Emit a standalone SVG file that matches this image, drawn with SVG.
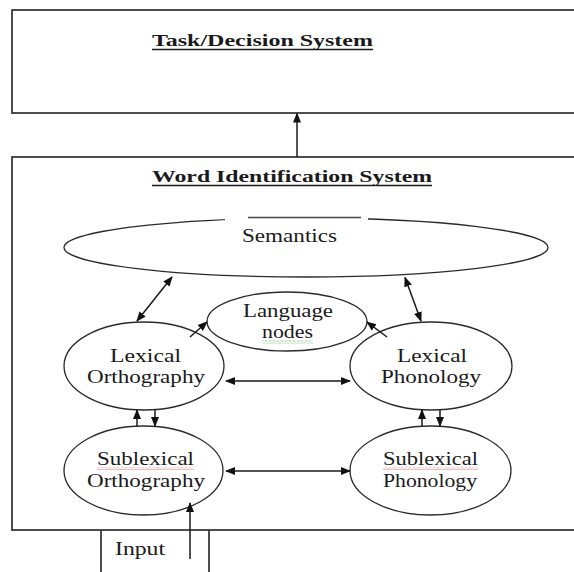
<svg xmlns="http://www.w3.org/2000/svg" width="574" height="572" viewBox="0 0 574 572">
<style>
.box{fill:none;stroke:#3a3a3a;stroke-width:1.8}
.node{fill:#fff;stroke:#2a2a2a;stroke-width:1.3}
.t{font-family:"Liberation Serif","Times New Roman",serif;font-size:18px;fill:#1a1a1a}
.h{font-family:"Liberation Serif","Times New Roman",serif;font-size:17px;font-weight:bold;fill:#1a1a1a}
.ul{stroke:#1a1a1a;stroke-width:1.5}
.c{fill:none;stroke:#1a1a1a;stroke-width:1.5}
.c2{fill:none;stroke:#1a1a1a;stroke-width:1.5;marker-end:url(#ah)}
.c3{fill:none;stroke:#1a1a1a;stroke-width:1.5;marker-start:url(#as);marker-end:url(#ah)}
</style>
<defs>
<marker id="ah" markerUnits="userSpaceOnUse" markerWidth="10" markerHeight="10" viewBox="0 0 10 10" refX="9" refY="5" orient="auto">
<path d="M0,1 L10,5 L0,9 Z" fill="#111"/>
</marker>
<marker id="as" markerUnits="userSpaceOnUse" markerWidth="10" markerHeight="10" viewBox="0 0 10 10" refX="1" refY="5" orient="auto">
<path d="M10,1 L0,5 L10,9 Z" fill="#111"/>
</marker>
<pattern id="sqr" width="4" height="3" patternUnits="userSpaceOnUse">
<polyline points="0,0.5 2,2.5 4,0.5" fill="none" stroke="#e06060" stroke-width="0.8"/>
</pattern>
<pattern id="sqg" width="4" height="3" patternUnits="userSpaceOnUse">
<polyline points="0,0.5 2,2.5 4,0.5" fill="none" stroke="#4caf50" stroke-width="0.8"/>
</pattern>
</defs>
<rect x="0" y="0" width="574" height="572" fill="#fff"/>

<g id="task">
<rect class="box" x="12" y="10" width="580" height="103"/>
<text class="h" x="152" y="46" textLength="221" lengthAdjust="spacingAndGlyphs">Task/Decision System</text>
<line class="ul" x1="152" y1="49.5" x2="373" y2="49.5"/>
</g>

<g id="word">
<rect class="box" x="12" y="157" width="580" height="373"/>
<text class="h" x="152" y="182" textLength="280" lengthAdjust="spacingAndGlyphs">Word Identification System</text>
<line class="ul" x1="152" y1="185.5" x2="432" y2="185.5"/>
</g>

<g id="input">
<line class="box" x1="101" y1="530" x2="101" y2="580"/>
<line class="box" x1="209" y1="530" x2="209" y2="580"/>
<text class="t" x="115" y="555" textLength="50" lengthAdjust="spacingAndGlyphs">Input</text>
</g>

<g id="semantics">
<ellipse class="node" cx="306" cy="247.5" rx="242" ry="29.5"/>
<rect x="225" y="214" width="143" height="7" fill="#fff"/>
<line x1="248" y1="217.5" x2="361" y2="217.5" stroke="#444" stroke-width="1.3"/>
<text class="t" x="242" y="242" textLength="95" lengthAdjust="spacingAndGlyphs">Semantics</text>
</g>

<g id="language">
<ellipse class="node" cx="287" cy="321.5" rx="80" ry="29.5"/>
<text class="t" x="243" y="317" textLength="90" lengthAdjust="spacingAndGlyphs">Language</text>
<text class="t" x="262" y="338" textLength="51" lengthAdjust="spacingAndGlyphs">nodes</text>
<rect x="262" y="340.5" width="51" height="3" fill="url(#sqg)"/>
</g>

<g id="lexortho">
<ellipse class="node" cx="144" cy="366" rx="80" ry="44"/>
<text class="t" x="110" y="361.5" textLength="71" lengthAdjust="spacingAndGlyphs">Lexical</text>
<text class="t" x="87" y="383" textLength="118" lengthAdjust="spacingAndGlyphs">Orthography</text>
</g>

<g id="lexphon">
<ellipse class="node" cx="431" cy="366" rx="81" ry="44"/>
<text class="t" x="397" y="361.5" textLength="70" lengthAdjust="spacingAndGlyphs">Lexical</text>
<text class="t" x="381" y="383" textLength="100" lengthAdjust="spacingAndGlyphs">Phonology</text>
</g>

<g id="subortho">
<ellipse class="node" cx="143.5" cy="470.5" rx="79.5" ry="44.5"/>
<text class="t" x="97" y="464.5" textLength="97" lengthAdjust="spacingAndGlyphs">Sublexical</text>
<rect x="97" y="467" width="97" height="3" fill="url(#sqr)"/>
<text class="t" x="87" y="487" textLength="118" lengthAdjust="spacingAndGlyphs">Orthography</text>
</g>

<g id="subphon">
<ellipse class="node" cx="430.5" cy="470.5" rx="80.5" ry="44.5"/>
<text class="t" x="383" y="464.5" textLength="95" lengthAdjust="spacingAndGlyphs">Sublexical</text>
<rect x="383" y="467" width="95" height="3" fill="url(#sqr)"/>
<text class="t" x="383" y="487" textLength="94" lengthAdjust="spacingAndGlyphs">Phonology</text>
</g>

<g id="connectors">
<line class="c2" x1="297" y1="157" x2="297" y2="113.5"/>
<line class="c3" x1="137" y1="321" x2="172" y2="277"/>
<line class="c3" x1="421" y1="321" x2="405" y2="277.5"/>
<line class="c2" x1="190" y1="337" x2="207" y2="322"/>
<line class="c2" x1="387" y1="337" x2="367" y2="322"/>
<line class="c3" x1="226" y1="381" x2="350" y2="381"/>
<line class="c2" x1="137" y1="426" x2="137" y2="410"/>
<line class="c2" x1="155" y1="410" x2="155" y2="426"/>
<line class="c2" x1="422" y1="426" x2="422" y2="410"/>
<line class="c2" x1="440" y1="410" x2="440" y2="426"/>
<line class="c3" x1="226" y1="471" x2="350" y2="471"/>
<line class="c2" x1="190" y1="559" x2="190" y2="503"/>
</g>
</svg>
